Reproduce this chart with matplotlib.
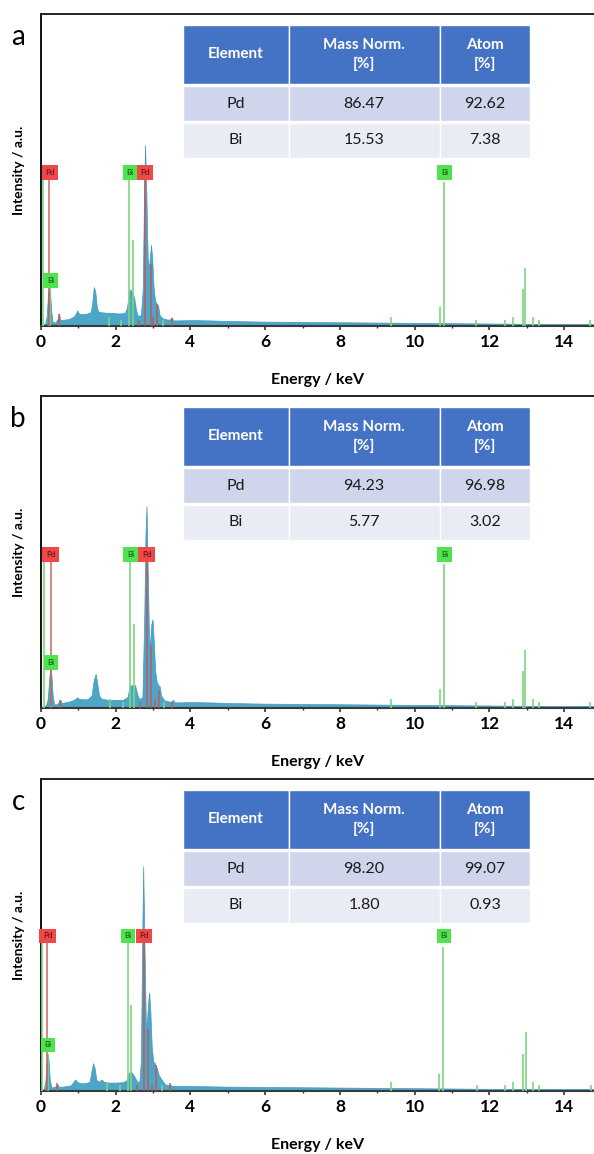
import matplotlib
matplotlib.use("Agg")
import matplotlib.pyplot as plt
from matplotlib.patches import Rectangle
from matplotlib.ticker import MultipleLocator

plt.rcParams['font.family'] = ['Lato', 'DejaVu Sans']

# ---------------- data ----------------
panel_letters = ["a", "b", "c"]
table_header = ["Element", "Mass Norm.\n[%]", "Atom\n[%]"]
elements = ["Pd", "Bi"]
mass_norm = [[86.47, 15.53], [94.23, 5.77], [98.20, 1.80]]
atom_pct = [[92.62, 7.38], [96.98, 3.02], [99.07, 0.93]]

# traced spectrum outlines (energy keV, relative intensity)
spec_a_E = [0.00, 0.05, 0.12, 0.16, 0.19, 0.22, 0.25, 0.28, 0.32, 0.40, 0.46, 0.49, 0.52, 0.60, 0.75, 0.88, 0.94, 0.98,
            1.02, 1.10, 1.25, 1.34, 1.38, 1.42, 1.46, 1.50, 1.55, 1.70, 1.90, 2.10, 2.25, 2.31, 2.36, 2.40, 2.45, 2.50,
            2.55, 2.60, 2.68, 2.73, 2.76, 2.79, 2.82, 2.86, 2.89, 2.92, 2.95, 2.98, 3.02, 3.06, 3.10, 3.14, 3.18, 3.25,
            3.40, 3.47, 3.50, 3.54, 3.70, 4.0, 4.5, 5.0, 6.0, 7.0, 8.0, 9.0, 10.0, 11.0, 12.0, 13.0, 14.0, 14.8]
spec_a_I = [0.0, 0.004, 0.008, 0.03, 0.09, 0.125, 0.11, 0.05, 0.012, 0.012, 0.025, 0.04, 0.02, 0.02, 0.022, 0.03, 0.04, 0.05,
            0.04, 0.038, 0.04, 0.045, 0.075, 0.125, 0.11, 0.06, 0.045, 0.043, 0.042, 0.040, 0.042, 0.06, 0.11, 0.117, 0.105, 0.09,
            0.05, 0.032, 0.035, 0.12, 0.40, 0.58, 0.45, 0.22, 0.18, 0.22, 0.26, 0.22, 0.12, 0.08, 0.072, 0.065, 0.035, 0.025,
            0.02, 0.022, 0.028, 0.018, 0.018, 0.019, 0.018, 0.016, 0.014, 0.013, 0.012, 0.011, 0.010, 0.009, 0.008, 0.007, 0.007, 0.007]

spec_b_E = [0.00, 0.05, 0.14, 0.19, 0.23, 0.26, 0.29, 0.32, 0.36, 0.44, 0.50, 0.53, 0.56, 0.65, 0.80, 0.92, 0.97, 1.02,
            1.10, 1.25, 1.36, 1.42, 1.47, 1.51, 1.56, 1.62, 1.80, 2.00, 2.20, 2.32, 2.38, 2.43, 2.48, 2.52, 2.58, 2.64,
            2.72, 2.77, 2.80, 2.83, 2.86, 2.90, 2.93, 2.96, 2.99, 3.02, 3.06, 3.10, 3.14, 3.18, 3.22, 3.30, 3.45, 3.51,
            3.54, 3.58, 3.70, 4.0, 4.5, 5.0, 6.0, 7.0, 8.0, 9.0, 10.0, 11.0, 12.0, 13.0, 14.0, 14.8]
spec_b_I = [0.0, 0.004, 0.008, 0.03, 0.10, 0.127, 0.10, 0.04, 0.012, 0.012, 0.022, 0.026, 0.016, 0.018, 0.022, 0.028, 0.034, 0.030,
            0.028, 0.028, 0.040, 0.090, 0.109, 0.080, 0.040, 0.030, 0.026, 0.026, 0.026, 0.035, 0.070, 0.074, 0.066, 0.074, 0.045, 0.028,
            0.035, 0.30, 0.55, 0.647, 0.45, 0.20, 0.22, 0.27, 0.284, 0.22, 0.12, 0.085, 0.074, 0.070, 0.040, 0.025, 0.020, 0.022,
            0.026, 0.018, 0.018, 0.019, 0.018, 0.016, 0.014, 0.013, 0.012, 0.011, 0.010, 0.009, 0.008, 0.007, 0.007, 0.007]

spec_c_E = [0.00, 0.05, 0.09, 0.13, 0.16, 0.18, 0.21, 0.24, 0.28, 0.36, 0.42, 0.45, 0.48, 0.60, 0.80, 0.88, 0.92, 0.97,
            1.05, 1.20, 1.31, 1.36, 1.40, 1.44, 1.49, 1.55, 1.60, 1.63, 1.68, 1.80, 2.00, 2.20, 2.30, 2.36, 2.41, 2.46,
            2.51, 2.58, 2.64, 2.68, 2.71, 2.74, 2.77, 2.81, 2.84, 2.87, 2.90, 2.93, 2.97, 3.01, 3.05, 3.10, 3.16, 3.24,
            3.32, 3.42, 3.46, 3.50, 3.70, 4.0, 4.5, 5.0, 6.0, 7.0, 8.0, 9.0, 10.0, 11.0, 12.0, 13.0, 14.0, 14.8]
spec_c_I = [0.0, 0.004, 0.008, 0.035, 0.10, 0.12, 0.10, 0.04, 0.012, 0.012, 0.018, 0.022, 0.014, 0.014, 0.018, 0.030, 0.037, 0.030,
            0.025, 0.025, 0.030, 0.065, 0.089, 0.075, 0.035, 0.030, 0.034, 0.037, 0.030, 0.027, 0.027, 0.028, 0.035, 0.058, 0.062, 0.055,
            0.045, 0.030, 0.030, 0.10, 0.45, 0.72, 0.50, 0.22, 0.22, 0.28, 0.316, 0.26, 0.14, 0.095, 0.089, 0.075, 0.050, 0.035,
            0.022, 0.018, 0.022, 0.016, 0.016, 0.016, 0.015, 0.014, 0.013, 0.012, 0.011, 0.010, 0.009, 0.008, 0.007, 0.007, 0.007, 0.007]

# element marker lines (energy keV, relative height)
bi_lines_E = [[0.06, 0.25, 1.83, 2.16, 2.37, 2.48, 3.28, 9.37, 10.68, 10.78, 11.64, 12.42, 12.62, 12.89, 12.96, 13.15, 13.32, 14.70],
              [0.10, 0.28, 1.86, 2.19, 2.40, 2.50, 3.30, 9.37, 10.68, 10.78, 11.64, 12.42, 12.62, 12.89, 12.96, 13.15, 13.32, 14.70],
              [0.03, 0.19, 1.78, 2.12, 2.33, 2.41, 3.24, 9.36, 10.66, 10.77, 11.66, 12.41, 12.62, 12.89, 12.97, 13.15, 13.32, 14.71]]
bi_lines_H = [[0.47, 0.13, 0.03, 0.02, 0.47, 0.275, 0.02, 0.03, 0.06, 0.46, 0.02, 0.02, 0.03, 0.12, 0.185, 0.03, 0.02, 0.02],
              [0.47, 0.12, 0.03, 0.02, 0.47, 0.27, 0.02, 0.03, 0.06, 0.46, 0.02, 0.02, 0.03, 0.12, 0.185, 0.03, 0.02, 0.02],
              [0.475, 0.12, 0.03, 0.02, 0.475, 0.277, 0.02, 0.03, 0.055, 0.46, 0.02, 0.02, 0.03, 0.12, 0.19, 0.03, 0.02, 0.02]]
pd_lines_E = [[0.23, 0.49, 2.62, 2.80, 2.94, 3.01, 3.12, 3.50],
              [0.27, 0.51, 2.66, 2.83, 2.95, 3.05, 3.16, 3.52],
              [0.18, 0.44, 2.58, 2.76, 2.88, 2.98, 3.08, 3.45]]
pd_lines_H = [[0.47, 0.04, 0.02, 0.47, 0.20, 0.03, 0.07, 0.025],
              [0.47, 0.026, 0.02, 0.47, 0.20, 0.03, 0.058, 0.02],
              [0.475, 0.025, 0.02, 0.475, 0.20, 0.02, 0.084, 0.025]]

# element label tags (text, energy keV, relative height)
tag_text = ["Pd", "Bi", "Pd", "Bi", "Bi"]
tag_E = [[0.25, 2.38, 2.79, 0.26, 10.80],
         [0.27, 2.40, 2.83, 0.28, 10.80],
         [0.19, 2.33, 2.76, 0.19, 10.79]]
tag_H = [[0.492, 0.492, 0.492, 0.146, 0.492],
         [0.492, 0.492, 0.492, 0.146, 0.492],
         [0.497, 0.497, 0.497, 0.148, 0.497]]

spectra = [(spec_a_E, spec_a_I), (spec_b_E, spec_b_I), (spec_c_E, spec_c_I)]

# ---------------- styling ----------------
W, H = 594, 1154
fig = plt.figure(figsize=(W / 100, H / 100), dpi=100)

ax_left_px = 40.7
ax_h_px = 312
bottoms_px = [326, 708, 1091]

spec_color = '#4ba6c8'
spec_edge = '#4299bd'
green_line = '#7fd47f'
red_line = '#c55353'
tag_colors = {"Pd": ('#f04848', '#4a0d0d'), "Bi": ('#4fe34f', '#134513')}

header_color = '#4472C4'
row_colors = ['#CFD5EA', '#E9EBF5']
col_x = [0.257, 0.448, 0.721, 0.885]
row_y = [(0.965, 0.776), (0.768, 0.657), (0.652, 0.538)]

for i in range(3):
    b = 1 - bottoms_px[i] / H
    ax = fig.add_axes([ax_left_px / W, b, 1 - ax_left_px / W, ax_h_px / H])
    E, I = spectra[i]
    ax.fill_between(E, I, 0, color=spec_color, lw=0.5, edgecolor=spec_edge, zorder=2)
    ax.vlines(bi_lines_E[i], 0, bi_lines_H[i], colors=green_line, lw=1.2, zorder=3)
    ax.vlines(pd_lines_E[i], 0, pd_lines_H[i], colors=red_line, lw=1.1, alpha=0.9, zorder=3)
    for t, e, h in zip(tag_text, tag_E[i], tag_H[i]):
        fc, tc = tag_colors[t]
        ax.text(e, h, t, fontsize=5.8, color=tc, ha='center', va='center', zorder=5, clip_on=False,
                bbox=dict(boxstyle='square,pad=0.45', fc=fc, ec='none'))

    ax.set_xlim(0, (W - ax_left_px) / 37.4)
    ax.set_ylim(0, 1)
    ax.set_yticks([])
    ax.xaxis.set_major_locator(MultipleLocator(2))
    ax.xaxis.set_minor_locator(MultipleLocator(1))
    ax.tick_params(axis='x', which='major', direction='out', length=3, width=1.2, color='#333333',
                   labelsize=12.5, pad=2.5)
    ax.tick_params(axis='x', which='minor', direction='out', length=1.6, width=1.0, color='#333333')
    for lab in ax.get_xticklabels():
        lab.set_fontweight('bold')
    ax.spines['right'].set_visible(False)
    ax.spines['left'].set_linewidth(1.3)
    ax.spines['top'].set_linewidth(1.4)
    ax.spines['bottom'].set_linewidth(1.5)
    ax.spines['bottom'].set_color('#3a3a3a')
    ax.spines['top'].set_color('#222222')

    ax.set_xlabel("Energy / keV", fontsize=11.5, fontweight='bold')
    ax.xaxis.set_label_coords(0.5, -0.15)
    ax.set_ylabel("Intensity / a.u.", fontsize=10, fontweight='bold')
    ax.yaxis.set_label_coords(-0.029, 0.5)

    ax.text(-0.041, 0.925, panel_letters[i], transform=ax.transAxes, fontsize=20,
            ha='center', va='center')

    # table
    rows = [table_header,
            [elements[0], f"{mass_norm[i][0]:.2f}", f"{atom_pct[i][0]:.2f}"],
            [elements[1], f"{mass_norm[i][1]:.2f}", f"{atom_pct[i][1]:.2f}"]]
    colors = [header_color] + row_colors
    for r, (yt, yb) in enumerate(row_y):
        for c in range(3):
            x0, x1 = col_x[c], col_x[c + 1]
            ax.add_patch(Rectangle((x0, yb), x1 - x0, yt - yb, transform=ax.transAxes,
                                   fc=colors[r], ec='white', lw=1.0, zorder=6, clip_on=False))
            if r == 0:
                ax.text((x0 + x1) / 2, (yt + yb) / 2, rows[r][c], transform=ax.transAxes,
                        ha='center', va='center', fontsize=11, fontweight='bold', color='white',
                        linespacing=1.45, zorder=7)
            else:
                ax.text((x0 + x1) / 2, (yt + yb) / 2, rows[r][c], transform=ax.transAxes,
                        ha='center', va='center', fontsize=11.5, color='#1a1a1a', zorder=7)

fig.savefig("out.png", dpi=100)
